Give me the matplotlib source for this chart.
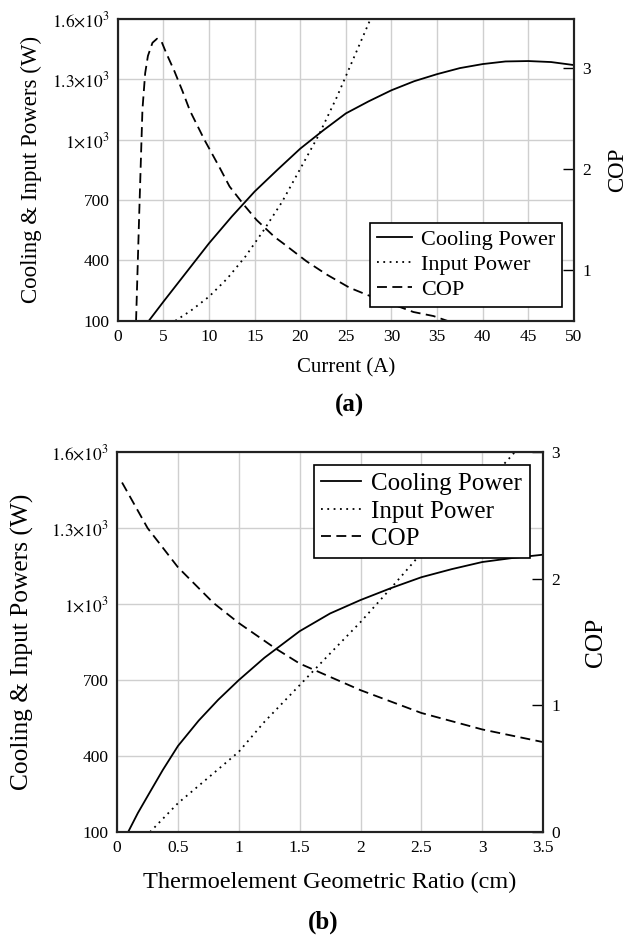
import matplotlib
matplotlib.use("Agg")
import matplotlib.pyplot as plt
from matplotlib.ticker import FixedLocator, FixedFormatter

plt.rcParams["font.family"] = ["Liberation Serif", "DejaVu Serif"]
plt.rcParams["mathtext.fontset"] = "stix"

# panel (a): vs current
current_cool = [3.4, 5, 7.5, 10, 12.5, 15, 17.5, 20, 22.5, 25, 27.5, 30, 32.5, 35, 37.5, 40, 42.5, 45, 47.5, 50]
cooling_a = [100, 195, 340, 485, 618, 742, 850, 955, 1045, 1130, 1190, 1245, 1290, 1325, 1355, 1375, 1388, 1390, 1385, 1370]
current_in = [6.3, 8, 10, 12, 14, 16, 18, 20, 22, 24, 26, 28]
input_a = [100, 150, 220, 310, 420, 550, 690, 855, 1020, 1210, 1420, 1630]
current_cop = [2.0, 2.35, 2.7, 3.0, 3.3, 3.8, 4.3, 4.8, 5.3, 6.2, 7.1, 7.9, 9.5, 10.05, 11.2, 12.25,
               13.9, 15.2, 17.2, 18.1, 20.7, 22.9, 25.4, 27.3, 30, 32.4, 34.6, 36.2]
cop_a = [0.5, 1.57, 2.59, 2.95, 3.12, 3.25, 3.29, 3.26, 3.15, 2.97, 2.77, 2.58, 2.29, 2.20, 2.01, 1.83,
         1.64, 1.50, 1.33, 1.27, 1.09, 0.96, 0.83, 0.76, 0.67, 0.59, 0.55, 0.50]

# panel (b): vs geometric ratio
ratio_cool = [0.09, 0.17, 0.26, 0.375, 0.5, 0.67, 0.83, 1.0, 1.21, 1.5, 1.75, 2.0, 2.25, 2.5, 2.75, 3.0, 3.25, 3.5]
cooling_b = [100, 175, 250, 345, 440, 540, 622, 700, 788, 893, 963, 1016, 1063, 1106, 1138, 1166, 1182, 1195]
ratio_in = [0.27, 0.5, 0.75, 1.0, 1.21, 1.5, 1.75, 2.0, 2.25, 2.5, 2.75, 3.0, 3.25, 3.3]
input_b = [100, 214, 315, 417, 535, 680, 805, 929, 1063, 1201, 1330, 1460, 1590, 1620]
ratio_cop = [0.04, 0.25, 0.5, 0.79, 1.0, 1.3, 1.5, 2.0, 2.5, 3.0, 3.5]
cop_b = [2.76, 2.40, 2.09, 1.81, 1.65, 1.45, 1.33, 1.12, 0.94, 0.81, 0.71]

power_ticks = [100, 400, 700, 1000, 1300, 1600]
power_labels = ["100", "400", "700", r"$1{\times}10^3$", r"$1.3{\times}10^3$", r"$1.6{\times}10^3$"]

DASH = (0, (5.5, 3))
DOT = (0, (1, 2.5))
W, H = 630, 938


def panel(rect, x_cool, y_cool, x_in, y_in, x_cop, y_cop, xlim, xticks, xtlabels,
          cop_lim, cop_ticks, xlabel, leg_loc, leg_anchor, leg_fs, ylab_fs, xlab_fs,
          ylab_px, cop_px, xlab_py):
    ax = fig.add_axes(rect)
    ax.set_axisbelow(True)
    ax.grid(color="#cfcfcf", lw=1)
    l1, = ax.plot(x_cool, y_cool, color="black", lw=1.3, label="Cooling Power")
    l2, = ax.plot(x_in, y_in, color="black", lw=1.3, linestyle=DOT, label="Input Power")
    ax.set_xlim(xlim)
    ax.set_ylim(100, 1600)
    ax.xaxis.set_major_locator(FixedLocator(xticks))
    ax.xaxis.set_major_formatter(FixedFormatter(xtlabels))
    ax.yaxis.set_major_locator(FixedLocator(power_ticks))
    ax.yaxis.set_major_formatter(FixedFormatter(power_labels))
    ax.tick_params(length=0, labelsize=12.5, pad=6)

    ax2 = ax.twinx()
    l3, = ax2.plot(x_cop, y_cop, color="black", lw=1.3, linestyle=DASH, label="COP")
    ax2.set_ylim(cop_lim)
    ax2.set_yticks(cop_ticks)
    ax2.tick_params(direction="in", length=8, width=1, labelsize=12.5, pad=6)
    for a in (ax, ax2):
        for s in a.spines.values():
            s.set_linewidth(1.5)
            s.set_color("#222222")

    yc = 1 - (rect[1] + rect[3] / 2)
    fig.text(ylab_px / W, 1 - yc, "Cooling & Input Powers (W)", rotation=90,
             ha="center", va="center", fontsize=ylab_fs)
    fig.text(cop_px / W, 1 - yc, "COP", rotation=90, ha="center", va="center", fontsize=ylab_fs)
    fig.text(rect[0] + rect[2] / 2, 1 - xlab_py / H, xlabel, ha="center", va="center",
             fontsize=xlab_fs)

    leg = ax2.legend(handles=[l1, l2, l3], loc=leg_loc, bbox_to_anchor=leg_anchor,
                     fontsize=leg_fs, fancybox=False, framealpha=1, edgecolor="black",
                     handlelength=1.6, handletextpad=0.4, borderpad=0.3, labelspacing=0.2,
                     borderaxespad=0)
    leg.get_frame().set_linewidth(1.2)
    return ax


fig = plt.figure(figsize=(6.3, 9.38), dpi=100)

panel([0.187, 0.658, 0.724, 0.322], current_cool, cooling_a, current_in, input_a,
      current_cop, cop_a, (0, 50), list(range(0, 51, 5)), [str(v) for v in range(0, 51, 5)],
      (0.503, 3.487), [1, 2, 3], "Current (A)", "lower right", (0.974, 0.046),
      16, 16.5, 15, 31, 618, 368)

panel([0.186, 0.113, 0.676, 0.405], ratio_cool, cooling_b, ratio_in, input_b,
      ratio_cop, cop_b, (0, 3.5), [0, 0.5, 1, 1.5, 2, 2.5, 3, 3.5],
      ["0", "0.5", "1", "1.5", "2", "2.5", "3", "3.5"],
      (0, 3), [0, 1, 2, 3], "Thermoelement Geometric Ratio (cm)", "upper right", (0.969, 0.966),
      18, 18.3, 17.5, 22, 596, 882)

fig.text(350 / W, 1 - 405 / H, "(a)", ha="center", va="center", fontsize=18, fontweight="bold")
fig.text(323 / W, 1 - 922 / H, "(b)", ha="center", va="center", fontsize=18, fontweight="bold")

fig.savefig("out.png", dpi=100)
